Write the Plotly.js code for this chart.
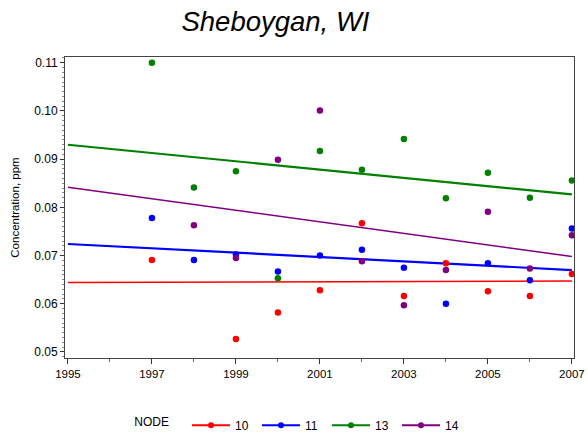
<!DOCTYPE html>
<html>
<head>
<meta charset="utf-8">
<script src="https://cdn.plot.ly/plotly-3.0.1.min.js"></script>
<style>html,body{margin:0;padding:0;background:#fff;}#chart{width:588px;height:442px;}</style>
</head>
<body>
<div id="chart"></div>
<script>
var nodes = ["10", "11", "13", "14"];
var colors = ["#ff0000", "#0000ff", "#008000", "#800080"];

var years10 = [1997, 1999, 2000, 2001, 2002, 2003, 2004, 2005, 2006, 2007];
var conc10  = [0.0691, 0.0527, 0.0582, 0.0628, 0.0767, 0.0616, 0.0684, 0.0626, 0.0616, 0.0662];

var years11 = [1997, 1998, 1999, 2000, 2001, 2002, 2003, 2004, 2005, 2006, 2007];
var conc11  = [0.0778, 0.0691, 0.0702, 0.0667, 0.0700, 0.0712, 0.0675, 0.0600, 0.0684, 0.0649, 0.0756];

var years13 = [1997, 1998, 1999, 2000, 2001, 2002, 2003, 2004, 2005, 2006, 2007];
var conc13  = [0.1100, 0.0841, 0.0875, 0.0653, 0.0917, 0.0878, 0.0942, 0.0819, 0.0872, 0.0820, 0.0856];

var years14 = [1998, 1999, 2000, 2001, 2002, 2003, 2004, 2005, 2006, 2007];
var conc14  = [0.0763, 0.0695, 0.0899, 0.1001, 0.0688, 0.0597, 0.0670, 0.0791, 0.0673, 0.0742];

// regression line endpoints
var fitYears = [1995, 2007];
var fit10 = [0.0644, 0.0647];
var fit11 = [0.0724, 0.0670];
var fit13 = [0.0930, 0.0827];
var fit14 = [0.0842, 0.0698];

var xTickVals = [1995, 1997, 1999, 2001, 2003, 2005, 2007];
var yTickVals = [0.05, 0.06, 0.07, 0.08, 0.09, 0.10, 0.11];

var pts = [[years10, conc10], [years11, conc11], [years13, conc13], [years14, conc14]];
var fits = [fit10, fit11, fit13, fit14];
var lineW = [1.5, 2.2, 2.2, 1.5];

var traces = [];
for (var i = 0; i < nodes.length; i++) {
  traces.push({
    x: fitYears, y: fits[i], mode: "lines", type: "scatter",
    line: {color: colors[i], width: lineW[i]}, showlegend: false, hoverinfo: "skip"
  });
}
for (var i = 0; i < nodes.length; i++) {
  traces.push({
    x: pts[i][0], y: pts[i][1], mode: "markers", type: "scatter",
    marker: {color: colors[i], size: 6.5}, showlegend: false, name: nodes[i]
  });
}
for (var i = 0; i < nodes.length; i++) {
  traces.push({
    x: [null], y: [null], mode: "lines+markers", type: "scatter", name: nodes[i],
    line: {color: colors[i], width: 2}, marker: {color: colors[i], size: 6}
  });
}

var font = "Liberation Sans, Arial, sans-serif";
var layout = {
  width: 588, height: 442,
  margin: {l: 65, r: 14, t: 57, b: 84},
  paper_bgcolor: "#fff", plot_bgcolor: "#fff",
  font: {family: font, size: 11.5, color: "#000"},
  title: {
    text: "<i>Sheboygan, WI</i>", font: {family: font, size: 27.5, color: "#000"},
    x: 0.4685, xref: "container", xanchor: "center",
    y: 0.952, yref: "container", yanchor: "middle"
  },
  xaxis: {
    range: [1994.93, 2007.05], tickvals: xTickVals, ticktext: xTickVals.map(String),
    ticks: "outside", ticklen: 5, tickcolor: "#333", tickwidth: 1,
    minor: {dtick: 1, tick0: 1995, ticks: "outside", ticklen: 3, tickcolor: "#666"},
    showgrid: false, zeroline: false, showline: true, linecolor: "#444", linewidth: 1, mirror: true,
    tickfont: {family: font, size: 11.5, color: "#000"}
  },
  yaxis: {
    range: [0.04875, 0.1112], tickvals: yTickVals, ticktext: yTickVals.map(function(v){return v.toFixed(2);}),
    ticks: "outside", ticklen: 4, tickcolor: "#333", tickwidth: 1,
    minor: {dtick: 0.001, tick0: 0.05, ticks: "outside", ticklen: 2, tickcolor: "#888"},
    showgrid: false, zeroline: false, showline: true, linecolor: "#444", linewidth: 1, mirror: true,
    tickfont: {family: font, size: 12, color: "#000"},
    title: {text: "Concentration, ppm", font: {family: font, size: 11.5, color: "#000"}, standoff: 12}
  },
  legend: {
    orientation: "h", x: 0.225, xref: "container", xanchor: "left",
    y: 0.038, yref: "container", yanchor: "middle",
    title: {text: "NODE   ", side: "left", font: {family: font, size: 12}},
    font: {family: font, size: 12, color: "#000"},
    itemwidth: 38, entrywidth: 17, entrywidthmode: "pixels", traceorder: "normal"
  },
  showlegend: true
};

Plotly.newPlot("chart", traces, layout, {staticPlot: true, displayModeBar: false});
</script>
</body>
</html>
